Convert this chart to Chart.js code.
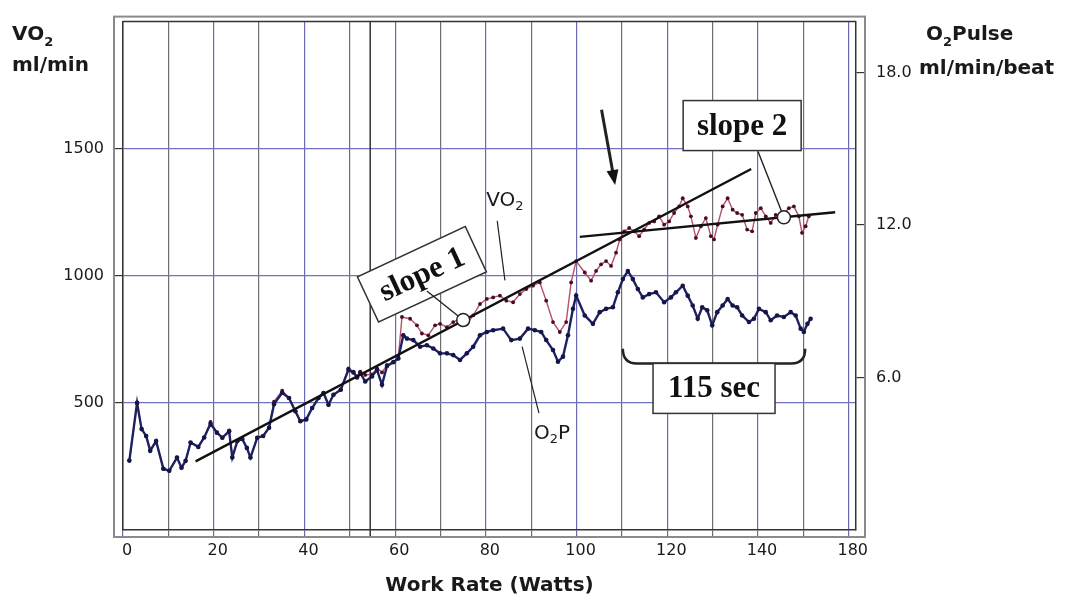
<!DOCTYPE html>
<html>
<head>
<meta charset="utf-8">
<script src="https://cdn.jsdelivr.net/npm/chart.js@4.4.1/dist/chart.umd.min.js"></script>
<style>
  html, body { margin: 0; padding: 0; background: #fff; }
  #wrap { width: 1065px; height: 599px; }
</style>
</head>
<body>
<div id="wrap"><canvas id="chart" width="1065" height="599"></canvas></div>
<script>
// VO2 (ml/min) against work rate (W)
const vo2Watts = [1.4, 3.1, 4.1, 5.1, 6.0, 7.3, 8.9, 10.2, 11.9, 12.9, 13.8, 14.9, 16.6, 17.9, 19.3,
  20.7, 21.9, 23.4, 24.1, 25.2, 26.3, 27.3, 28.1, 29.6, 30.9, 32.2, 33.3, 35.1, 36.6, 38.0,
  39.1, 40.4, 41.7, 43.1, 44.2, 45.3, 46.4, 48.0, 49.7, 50.8, 51.6, 52.3, 53.4, 54.9, 56.0,
  57.1, 58.2, 59.6, 60.7,
  61.5, 63.3, 64.8, 65.9, 67.3, 68.8, 69.9, 71.4, 72.8, 74.2, 75.8, 77.2, 78.7, 80.2, 81.6,
  83.1, 84.5, 86.0, 87.5, 88.9, 90.4, 91.9, 93.3, 94.8, 96.3, 97.7, 98.8, 99.9, 101.8, 103.2,
  104.3, 105.4, 106.5, 107.6, 108.7, 109.5, 110.5, 111.6, 112.7, 113.8, 114.9, 116.0, 117.1, 118.2, 119.3,
  120.4, 121.5, 122.6, 123.4, 124.5, 125.2, 126.3, 127.4, 128.5, 129.6, 130.3, 131.1, 132.2, 133.3, 134.4,
  135.4, 136.5, 137.6, 138.7, 139.5, 140.6, 141.7, 142.8, 143.9, 145.3, 146.8, 147.9, 149.0, 149.7, 150.5, 151.2];
const vo2Values = [273, 500, 397, 370, 312, 350, 241, 233, 285, 245, 272, 344, 327, 364, 425,
  383, 363, 392, 288, 350, 358, 323, 285, 363, 370, 402, 505, 548, 519, 467,
  428, 435, 480, 519, 539, 493, 532, 552, 636, 623, 604, 623, 610, 612, 636,
  620, 649, 662, 675,
  838, 831, 805, 773, 766, 805, 811, 798, 818, 830, 811, 844, 889, 909, 915,
  922, 902, 896, 928, 948, 961, 974, 902, 818, 779, 818, 974, 1058, 1013, 981,
  1019, 1045, 1058, 1039, 1091, 1143, 1175, 1188, 1175, 1156, 1182, 1208, 1214, 1234, 1201,
  1214, 1247, 1273, 1305, 1273, 1234, 1149, 1195, 1227, 1156, 1143, 1201, 1273, 1305, 1260,
  1247, 1240, 1182, 1175, 1247, 1266, 1234, 1208, 1240, 1234, 1266, 1273, 1234, 1169, 1195, 1234];

// O2 pulse (ml/min/beat) against work rate (W)
const o2pWatts = [1.4, 3.1, 4.1, 5.1, 6.0, 7.3, 8.9, 10.2, 11.9, 12.9, 13.8, 14.9, 16.6, 17.9, 19.3,
  20.7, 21.9, 23.4, 24.1, 25.2, 26.3, 27.3, 28.1, 29.6, 30.9, 32.2, 33.3, 35.1, 36.6, 38.0,
  39.1, 40.4, 41.7, 43.1, 44.2, 45.3, 46.4, 48.0, 49.7, 50.8, 51.6, 52.3, 53.4, 54.9, 56.0,
  57.1, 58.2, 59.6, 60.7,
  61.8, 62.6, 64.0, 65.5, 67.0, 68.4, 69.9, 71.4, 72.8, 74.3, 75.8, 77.2, 78.7, 80.2, 81.6,
  83.8, 85.6, 87.5, 89.3, 90.8, 92.2, 93.3, 94.8, 95.9, 97.0, 98.1, 99.2, 99.9, 101.8, 103.6,
  105.1, 106.5, 108.0, 109.1, 110.2, 111.3, 112.4, 113.5, 114.6, 116.0, 117.5, 119.3, 120.8, 121.9, 123.4,
  124.5, 125.6, 126.7, 127.7, 128.8, 129.9, 131.0, 132.2, 133.3, 134.4, 135.4, 136.5, 138.0, 139.1, 140.2,
  141.7, 142.8, 144.2, 145.7, 147.2, 148.3, 149.4, 150.1, 150.9, 151.6];
const o2pValues = [2.73, 5.00, 3.97, 3.70, 3.12, 3.50, 2.41, 2.33, 2.85, 2.45, 2.72, 3.44, 3.27, 3.64, 4.18,
  3.83, 3.63, 3.88, 2.85, 3.50, 3.58, 3.23, 2.85, 3.63, 3.70, 4.02, 4.95, 5.40, 5.19, 4.67,
  4.28, 4.35, 4.80, 5.19, 5.39, 4.93, 5.32, 5.52, 6.30, 6.20, 6.00, 6.18, 5.84, 6.04, 6.30,
  5.71, 6.45, 6.60, 6.75,
  7.66, 7.53, 7.47, 7.21, 7.27, 7.14, 6.95, 6.95, 6.88, 6.69, 6.95, 7.21, 7.66, 7.79, 7.86,
  7.92, 7.47, 7.53, 7.92, 7.86, 7.79, 7.47, 7.08, 6.62, 6.82, 7.66, 8.70, 9.22, 8.44, 8.11,
  8.57, 8.70, 8.76, 9.35, 9.87, 10.19, 9.87, 9.48, 9.15, 9.28, 9.35, 8.96, 9.15, 9.35, 9.61,
  9.22, 8.83, 8.31, 8.76, 8.64, 8.05, 8.57, 8.83, 9.09, 8.83, 8.76, 8.44, 8.18, 8.31, 8.70,
  8.57, 8.25, 8.44, 8.38, 8.57, 8.44, 7.92, 7.79, 8.11, 8.31];

// fitted lines and their marked points
const slope1Watts = [16, 138.5];
const slope1Values = [270, 1420];
const slope2Watts = [100.7, 157];
const slope2Values = [1153, 1250];
const markWatts = [75, 145.7];
const markValues = [826, 1230];

// ticks
const xGridValues = [0, 10, 20, 30, 40, 50, 60, 70, 80, 90, 100, 110, 120, 130, 140, 150, 160];
const xTickValues = [0, 20, 40, 60, 80, 100, 120, 140, 160];
const xTickLabels = ['0', '20', '40', '60', '80', '100', '120', '140', '180'];
const vo2TickValues = [500, 1000, 1500];
const o2pTickValues = [6, 12, 18];
const extraLineWatts = [54.5];

const toPoints = (xs, ys) => xs.map((x, i) => ({ x: x, y: ys[i] }));

// annotation anchors in data units (W, ml/min)
const notes = {
  slope1: { w: 65.9, v: 1006, text: 'slope 1', angle: -25, leaderFrom: [67.0, 940], mark: 0 },
  slope2: { w: 136.5, v: 1591, text: 'slope 2', angle: 0, leaderFrom: [140.0, 1489], mark: 1 },
  sec: { w: 130.3, v: 557, text: '115 sec' },
  vo2: { w: 84.2, v: 1294, leader: [[82.5, 1216], [84.2, 982]] },
  o2p: { w: 94.6, v: 378, leader: [[88.0, 721], [91.7, 460]] },
  arrow: { from: [105.5, 1653], to: [108.5, 1357] },
  brace: { w1: 110.2, w2: 150.4, vTop: 713, vBot: 655 }
};

const tickFont = { family: 'DejaVu Sans', size: 16 };
const ink = '#1a1a1a';

function drawSubText(ctx, x, y, parts, align) {
  // parts: [text, size, isSub, weight]
  let total = 0;
  parts.forEach(p => { ctx.font = p[3] + ' ' + p[1] + 'px "DejaVu Sans"'; total += ctx.measureText(p[0]).width; });
  let cx = align === 'center' ? x - total / 2 : x;
  parts.forEach(p => {
    ctx.font = p[3] + ' ' + p[1] + 'px "DejaVu Sans"';
    ctx.fillText(p[0], cx, p[2] ? y + 6 : y);
    cx += ctx.measureText(p[0]).width;
  });
}

function textBox(ctx, cx, cy, w, h, angle, text) {
  ctx.save();
  ctx.translate(cx, cy);
  ctx.rotate(angle * Math.PI / 180);
  ctx.fillStyle = '#fff';
  ctx.fillRect(-w / 2, -h / 2, w, h);
  ctx.strokeStyle = '#333';
  ctx.lineWidth = 1.5;
  ctx.strokeRect(-w / 2, -h / 2, w, h);
  ctx.fillStyle = '#111';
  ctx.font = 'bold 31px "Liberation Serif"';
  ctx.textAlign = 'center';
  ctx.textBaseline = 'middle';
  ctx.fillText(text, 0, 1);
  ctx.restore();
}

const framePlugin = {
  id: 'frame',
  beforeDatasetsDraw(chart) {
    const { ctx, chartArea: a, scales } = chart;
    ctx.save();
    ctx.strokeStyle = '#333';
    ctx.lineWidth = 1.5;
    extraLineWatts.forEach(w => {
      const x = scales.x.getPixelForValue(w);
      ctx.beginPath(); ctx.moveTo(x, a.top); ctx.lineTo(x, a.bottom + 8); ctx.stroke();
    });
    ctx.beginPath(); ctx.moveTo(a.left, a.top); ctx.lineTo(a.right, a.top); ctx.stroke();
    ctx.restore();
  },
  afterDraw(chart) {
    const { ctx, chartArea: a } = chart;
    ctx.save();
    ctx.strokeStyle = '#8a8a8a';
    ctx.lineWidth = 2;
    ctx.strokeRect(a.left - 9, a.top - 5, a.right - a.left + 18, a.bottom - a.top + 12);
    // axis titles at the top corners
    ctx.fillStyle = ink;
    ctx.textBaseline = 'alphabetic';
    ctx.textAlign = 'left';
    drawSubText(ctx, 12, 40, [['VO', 20, false, 'bold'], ['2', 13, true, 'bold']]);
    ctx.font = 'bold 20px "DejaVu Sans"';
    ctx.fillText('ml/min', 12, 71);
    drawSubText(ctx, 926, 40, [['O', 20, false, 'bold'], ['2', 13, true, 'bold'], ['Pulse', 20, false, 'bold']]);
    ctx.font = 'bold 20px "DejaVu Sans"';
    ctx.fillText('ml/min/beat', 919, 74);
    ctx.restore();
  },
  afterDatasetsDraw(chart) {
    const { ctx, scales } = chart;
    const P = (w, v) => [scales.x.getPixelForValue(w), scales.y.getPixelForValue(v)];
    ctx.save();
    ctx.strokeStyle = '#222';
    ctx.fillStyle = ink;

    // leader lines ending at the marked circles
    const leaderToMark = (from, i) => {
      const a = P(from[0], from[1]);
      const b = P(markWatts[i], markValues[i]);
      const d = Math.hypot(b[0] - a[0], b[1] - a[1]);
      const r = 6.5 / d;
      ctx.lineWidth = 1.4;
      ctx.beginPath();
      ctx.moveTo(a[0], a[1]);
      ctx.lineTo(b[0] - (b[0] - a[0]) * r, b[1] - (b[1] - a[1]) * r);
      ctx.stroke();
    };

    let c = P(notes.slope1.w, notes.slope1.v);
    textBox(ctx, c[0], c[1], 119, 50, notes.slope1.angle, notes.slope1.text);
    leaderToMark(notes.slope1.leaderFrom, notes.slope1.mark);

    leaderToMark(notes.slope2.leaderFrom, notes.slope2.mark);
    c = P(notes.slope2.w, notes.slope2.v);
    textBox(ctx, c[0], c[1], 118, 50, 0, notes.slope2.text);

    // brace over the last 115 s
    const b = notes.brace;
    const l = P(b.w1, b.vTop), r = P(b.w2, b.vTop), yb = scales.y.getPixelForValue(b.vBot);
    ctx.lineWidth = 2.5;
    ctx.beginPath();
    ctx.moveTo(l[0], l[1]);
    ctx.quadraticCurveTo(l[0], yb, l[0] + 14, yb);
    ctx.lineTo(r[0] - 14, yb);
    ctx.quadraticCurveTo(r[0], yb, r[0], r[1]);
    ctx.stroke();
    c = P(notes.sec.w, notes.sec.v);
    textBox(ctx, c[0], c[1], 122, 50, 0, notes.sec.text);

    // series labels with leaders
    ctx.lineWidth = 1.2;
    [notes.vo2, notes.o2p].forEach(n => {
      const a1 = P(n.leader[0][0], n.leader[0][1]), a2 = P(n.leader[1][0], n.leader[1][1]);
      ctx.beginPath(); ctx.moveTo(a1[0], a1[1]); ctx.lineTo(a2[0], a2[1]); ctx.stroke();
    });
    ctx.textBaseline = 'middle';
    c = P(notes.vo2.w, notes.vo2.v);
    drawSubText(ctx, c[0], c[1], [['VO', 20, false, ''], ['2', 13, true, '']], 'center');
    c = P(notes.o2p.w, notes.o2p.v);
    drawSubText(ctx, c[0], c[1], [['O', 20, false, ''], ['2', 13, true, ''], ['P', 20, false, '']], 'center');

    // arrow marking the break point
    const s = P(notes.arrow.from[0], notes.arrow.from[1]);
    const e = P(notes.arrow.to[0], notes.arrow.to[1]);
    const ang = Math.atan2(e[1] - s[1], e[0] - s[0]);
    ctx.lineWidth = 3;
    ctx.beginPath();
    ctx.moveTo(s[0], s[1]);
    ctx.lineTo(e[0] - 10 * Math.cos(ang), e[1] - 10 * Math.sin(ang));
    ctx.stroke();
    ctx.fillStyle = '#111';
    ctx.beginPath();
    ctx.moveTo(e[0], e[1]);
    ctx.lineTo(e[0] - 15 * Math.cos(ang) + 6 * Math.sin(ang), e[1] - 15 * Math.sin(ang) - 6 * Math.cos(ang));
    ctx.lineTo(e[0] - 15 * Math.cos(ang) - 6 * Math.sin(ang), e[1] - 15 * Math.sin(ang) + 6 * Math.cos(ang));
    ctx.closePath();
    ctx.fill();
    ctx.restore();
  }
};

new Chart(document.getElementById('chart'), {
  type: 'line',
  data: {
    datasets: [
      {
        label: 'marks',
        data: toPoints(markWatts, markValues),
        showLine: false,
        pointRadius: 6.5,
        pointBackgroundColor: '#fff',
        pointBorderColor: '#222',
        pointBorderWidth: 1.5,
        order: 0
      },
      {
        label: 'slope 1',
        data: toPoints(slope1Watts, slope1Values),
        borderColor: '#111',
        borderWidth: 2.4,
        pointRadius: 0,
        order: 1
      },
      {
        label: 'slope 2',
        data: toPoints(slope2Watts, slope2Values),
        borderColor: '#111',
        borderWidth: 2.4,
        pointRadius: 0,
        order: 1
      },
      {
        label: 'O2P',
        data: toPoints(o2pWatts, o2pValues),
        yAxisID: 'y1',
        borderColor: '#1e2160',
        borderWidth: 2.4,
        pointRadius: 2.3,
        pointBackgroundColor: '#14164a',
        pointBorderWidth: 0,
        tension: 0,
        order: 2
      },
      {
        label: 'VO2',
        data: toPoints(vo2Watts, vo2Values),
        borderColor: '#b5506e',
        borderWidth: 1.4,
        pointRadius: 1.9,
        pointBackgroundColor: '#4a0c22',
        pointBorderWidth: 0,
        tension: 0,
        order: 3
      }
    ]
  },
  options: {
    responsive: false,
    animation: false,
    devicePixelRatio: 1,
    layout: { padding: { top: 18, left: 0, right: 0, bottom: 0 } },
    plugins: { legend: { display: false }, tooltip: { enabled: false } },
    scales: {
      x: {
        type: 'linear',
        min: 0,
        max: 161.6,
        afterBuildTicks: s => { s.ticks = xGridValues.map(v => ({ value: v })); },
        afterFit: s => { s.height = 69; },
        ticks: {
          autoSkip: false,
          maxRotation: 0,
          padding: 3,
          labelOffset: 4,
          color: ink,
          font: tickFont,
          callback: v => { const i = xTickValues.indexOf(v); return i >= 0 ? xTickLabels[i] : ''; }
        },
        grid: {
          color: c => (c.tick && c.tick.value % 20 === 0) ? '#6a6ab4' : '#6e6e6e',
          lineWidth: 1.2,
          tickLength: 8
        },
        border: { color: '#333', width: 1.5 },
        title: {
          display: true,
          text: 'Work Rate (Watts)',
          color: ink,
          font: { family: 'DejaVu Sans', size: 20, weight: 'bold' },
          padding: { top: 0, bottom: 1 }
        }
      },
      y: {
        position: 'left',
        min: 0,
        max: 2000,
        afterBuildTicks: s => { s.ticks = vo2TickValues.map(v => ({ value: v })); },
        afterFit: s => { s.width = 123; },
        ticks: { color: ink, font: tickFont, padding: 10, callback: v => String(v) },
        grid: { color: '#7272c2', lineWidth: 1.2, tickLength: 9, tickColor: '#333' },
        border: { color: '#333', width: 1.5 }
      },
      y1: {
        position: 'right',
        min: 0,
        max: 20,
        afterBuildTicks: s => { s.ticks = o2pTickValues.map(v => ({ value: v })); },
        afterFit: s => { s.width = 209; },
        ticks: { color: ink, font: tickFont, padding: 12, callback: v => v.toFixed(1) },
        grid: { drawOnChartArea: false, tickLength: 8, color: '#333', lineWidth: 1.2 },
        border: { color: '#333', width: 1.5 }
      }
    }
  },
  plugins: [framePlugin]
});
</script>
</body>
</html>
